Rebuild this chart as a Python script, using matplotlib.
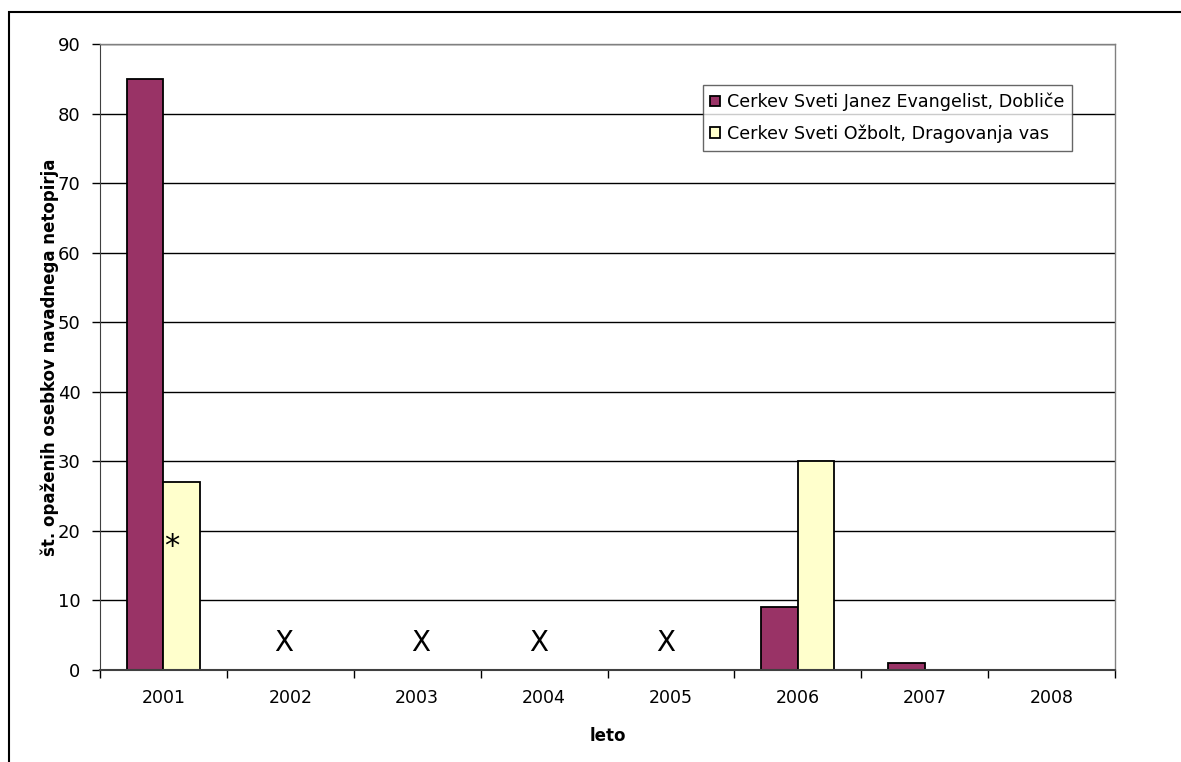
import matplotlib
matplotlib.use("Agg")
import matplotlib.pyplot as plt
from matplotlib.patches import Rectangle
import numpy as np

years = ["2001", "2002", "2003", "2004", "2005", "2006", "2007", "2008"]
doblice = [85, 0, 0, 0, 0, 9, 1, 0]
dragovanja = [27, 0, 0, 0, 0, 30, 0, 0]
series_names = ["Cerkev Sveti Janez Evangelist, Dobliče",
                "Cerkev Sveti Ožbolt, Dragovanja vas"]
x_mark_years = ["2002", "2003", "2004", "2005"]
x_mark_offsets = [-0.05, 0.03, -0.04, -0.04]
x_mark_y = 3.9
star_year = "2001"
star_y = 17.8

plt.rcParams['font.family'] = ['DejaVu Sans']
fig = plt.figure(figsize=(11.81, 7.62), dpi=100)
ax = fig.add_axes([100/1181, 92/762, 1015/1181, 626/762])

idx = np.arange(len(years))
w = 0.288
# zero values are not drawn (as in the original spreadsheet chart)
d1 = np.where(np.array(doblice) > 0, doblice, np.nan)
d2 = np.where(np.array(dragovanja) > 0, dragovanja, np.nan)
ax.bar(idx - w/2, d1, w, color="#993366", edgecolor="black", linewidth=1.3,
       label=series_names[0], zorder=3)
ax.bar(idx + w/2, d2, w, color="#FFFFCC", edgecolor="black", linewidth=1.3,
       label=series_names[1], zorder=3)

for yr, off in zip(x_mark_years, x_mark_offsets):
    ax.text(years.index(yr) + off, x_mark_y, "X", ha="center", va="center",
            fontsize=20, zorder=4)
ax.text(years.index(star_year) + 0.068, star_y, "*", ha="center", va="center",
        fontsize=22, zorder=4)

ax.set_xlim(-0.5, len(years) - 0.5)
ax.set_ylim(0, 90)
ax.set_yticks(np.arange(0, 91, 10))
ax.set_xticks(idx)
ax.set_xticklabels(years)
ax.set_xticks(np.arange(-0.5, len(years), 1), minor=True)
ax.tick_params(axis="x", which="major", length=0, labelsize=12.5, pad=14)
ax.tick_params(axis="x", which="minor", length=6, width=1, color="black", direction="out")
ax.tick_params(axis="y", length=6, width=1, labelsize=13, pad=8, direction="out")

ax.yaxis.grid(True, color="black", linewidth=1.0, zorder=0)
ax.set_axisbelow(True)
for s in ["top", "right"]:
    ax.spines[s].set_color("#808080")
    ax.spines[s].set_linewidth(1.0)
ax.spines["left"].set_color("#404040")
ax.spines["bottom"].set_color("#404040")
ax.spines["bottom"].set_linewidth(1.5)
ax.spines["bottom"].set_zorder(5)

ax.set_ylabel("št. opaženih osebkov navadnega netopirja", fontsize=12,
              fontweight="bold", labelpad=-1)
ax.set_xlabel("leto", fontsize=12, fontweight="bold", labelpad=14)

leg = ax.legend(loc="upper right", bbox_to_anchor=(0.958, 0.935), fontsize=12.6,
                frameon=True, fancybox=False, handlelength=0.55, handleheight=0.55,
                handletextpad=0.4, borderpad=0.45, labelspacing=0.75, borderaxespad=0)
leg.get_frame().set_edgecolor("#404040")
leg.get_frame().set_linewidth(1.0)

fig.patches.append(Rectangle((9/1181, -0.05), 1.1, (762-12)/762 + 0.05,
                             transform=fig.transFigure, fill=False,
                             edgecolor="black", linewidth=1.5))

fig.savefig("out.png", dpi=100)
